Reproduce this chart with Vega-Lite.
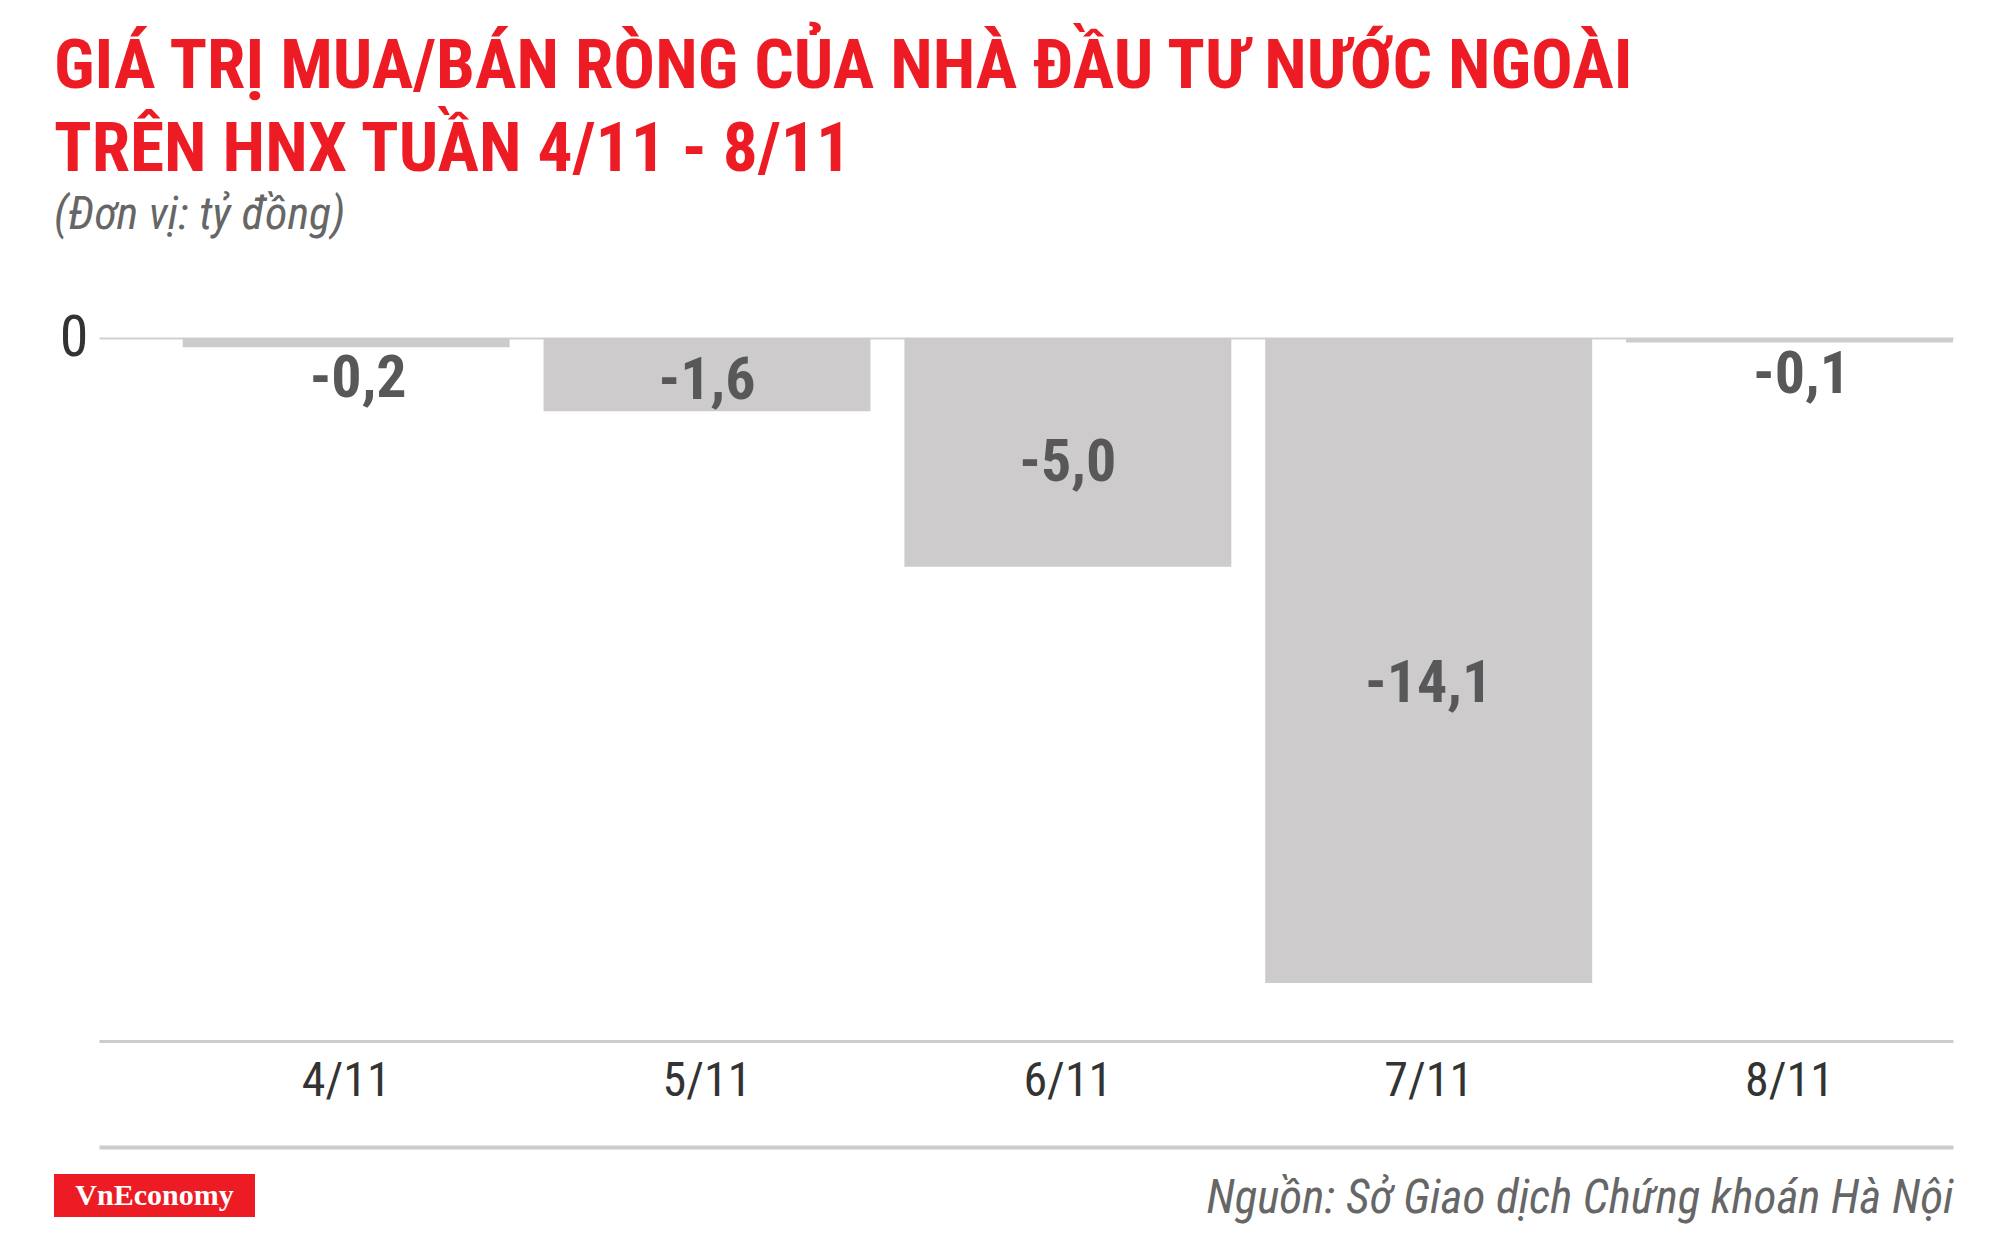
{
  "$schema": "https://vega.github.io/schema/vega-lite/v6.json",
  "autosize": {"type": "none"},
  "width": 1854,
  "height": 703,
  "padding": {"left": 99, "top": 338, "right": 47, "bottom": 194},
  "background": "#ffffff",
  "config": {
    "view": {"stroke": null},
    "font": "Liberation Sans Narrow, Roboto Condensed, DejaVu Sans Condensed, sans-serif",
    "locale": {"number": {"decimal": ",", "thousands": ".", "grouping": [3], "currency": ["", ""], "minus": "-"}}
  },
  "title": {
    "text": ["GIÁ TRỊ MUA/BÁN RÒNG CỦA NHÀ ĐẦU TƯ NƯỚC NGOÀI", "TRÊN HNX TUẦN 4/11 - 8/11"],
    "subtitle": "(Đơn vị: tỷ đồng)",
    "anchor": "start",
    "frame": "group",
    "dx": -45,
    "offset": 70,
    "font": "Liberation Sans Narrow, Roboto Condensed, DejaVu Sans Condensed, sans-serif",
    "fontSize": 69.4,
    "fontWeight": "bold",
    "color": "#ED1C24",
    "lineHeight": 83,
    "subtitleFont": "Liberation Sans Narrow, Roboto Condensed, DejaVu Sans Condensed, sans-serif",
    "subtitleFontSize": 46,
    "subtitleFontStyle": "italic",
    "subtitleFontWeight": "normal",
    "subtitleColor": "#666666",
    "subtitlePadding": 8
  },
  "data": {
    "values": [
      {"date": "4/11", "value": -0.2},
      {"date": "5/11", "value": -1.6},
      {"date": "6/11", "value": -5.0},
      {"date": "7/11", "value": -14.1},
      {"date": "8/11", "value": -0.1}
    ]
  },
  "resolve": {"axis": {"x": "independent"}},
  "layer": [
    {
      "mark": {"type": "bar", "color": "#cdcbcb"},
      "encoding": {
        "x": {
          "field": "date", "type": "nominal", "sort": null,
          "scale": {"paddingInner": 0.094, "paddingOuter": 0.116, "align": 1},
          "axis": {
            "orient": "bottom", "title": null, "domain": true, "domainColor": "#cccccc", "domainWidth": 3,
            "ticks": false, "tickSize": 0, "labelAngle": 0, "labelFontSize": 48, "labelColor": "#333333",
            "labelPadding": 16, "grid": false
          }
        },
        "y": {
          "field": "value", "type": "quantitative",
          "scale": {"domain": [-15.37, 0], "nice": false, "zero": false},
          "axis": {
            "values": [0], "title": null, "domain": false, "ticks": false, "tickSize": 0,
            "grid": true, "gridColor": "#d0d0d0", "gridWidth": 2,
            "labelFontSize": 58, "labelColor": "#333333", "labelPadding": 11
          }
        }
      }
    },
    {
      "transform": [{"filter": "datum.value <= -1"}],
      "mark": {"type": "text", "fontSize": 60, "fontWeight": "bold", "color": "#58585a", "baseline": "middle", "dy": 4},
      "encoding": {
        "x": {"field": "date", "type": "nominal", "sort": null, "axis": null},
        "y": {"field": "value", "type": "quantitative", "stack": "zero", "bandPosition": 0.53, "axis": {"title": null}},
        "text": {"field": "value", "type": "quantitative", "format": ".1f"}
      }
    },
    {
      "transform": [{"filter": "datum.value > -1"}],
      "mark": {"type": "text", "fontSize": 60, "fontWeight": "bold", "color": "#58585a", "baseline": "top", "dy": 3, "dx": 12},
      "encoding": {
        "x": {"field": "date", "type": "nominal", "sort": null, "axis": null},
        "y": {"field": "value", "type": "quantitative", "axis": {"title": null}},
        "text": {"field": "value", "type": "quantitative", "format": ".1f"}
      }
    },
    {
      "mark": {"type": "point", "filled": true, "opacity": 0, "color": "#ED1C24"},
      "encoding": {
        "x": {
          "field": "date", "type": "nominal", "sort": null,
          "axis": {
            "orient": "bottom", "offset": 106, "labels": false, "ticks": false, "tickSize": 0,
            "domain": true, "domainColor": "#cccccc", "domainWidth": 4, "grid": false,
            "title": "Nguồn: Sở Giao dịch Chứng khoán Hà Nội",
            "titleFontStyle": "italic", "titleFontWeight": "normal", "titleFontSize": 47,
            "titleColor": "#666666", "titleAnchor": "end", "titleAlign": "right", "titlePadding": 28
          }
        },
        "y": {"field": "value", "type": "quantitative", "axis": {"title": null}},
        "shape": {
          "datum": "VnEconomy",
          "scale": {"range": ["M-1,-0.214H1V0.214H-1Z"]},
          "legend": {
            "orient": "none", "legendX": -45, "legendY": 757, "title": null, "padding": 0,
            "symbolSize": 40401, "symbolFillColor": "#ED1C24", "symbolStrokeWidth": 0, "symbolOpacity": 1,
            "labelFont": "Liberation Serif", "labelFontWeight": "bold", "labelFontSize": 30,
            "labelColor": "#ffffff", "labelAlign": "center", "labelOffset": -100.5, "labelBaseline": "middle", "labelLimit": 0
          }
        }
      }
    }
  ]
}
